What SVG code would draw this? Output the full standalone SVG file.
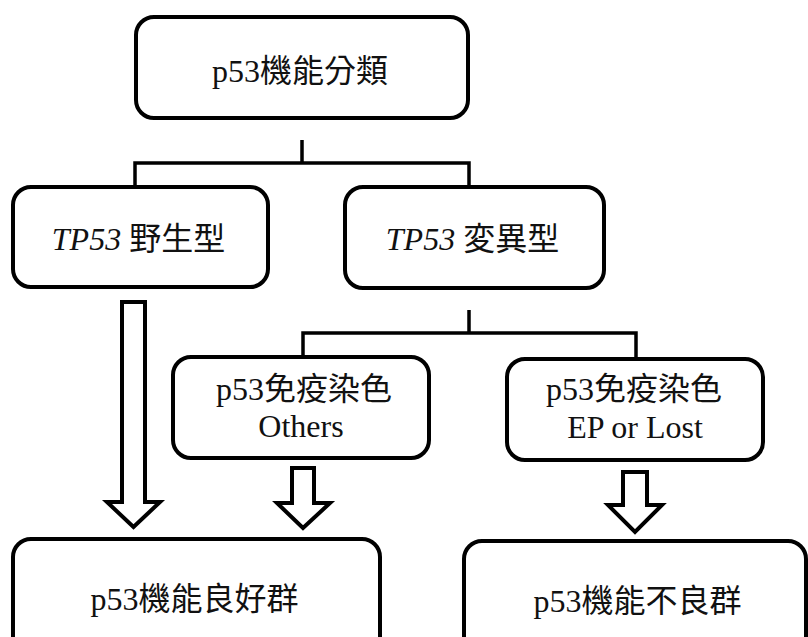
<svg xmlns="http://www.w3.org/2000/svg" width="808" height="637" viewBox="0 0 808 637">
<style>
.box{fill:#fff;stroke:#000;stroke-width:4}
.con{fill:none;stroke:#000;stroke-width:3.5}
.arr{fill:#fff;stroke:#000;stroke-width:4;stroke-linejoin:miter}
text{font-family:"Liberation Serif","Noto Sans CJK TC","Noto Sans CJK JP",serif;font-size:32px;fill:#111;text-anchor:middle}
.it{font-style:italic}
</style>
<rect width="808" height="637" fill="#fff"/>
<g id="connectors">
<path class="con" d="M302,140 V163 M135,187 V163 H469 V187"/>
<path class="con" d="M469,310 V333 M303,357 V333 H636 V359"/>
<path class="arr" d="M122,302 H145 V502 H160 L133.5,527 L107,502 H122 Z"/>
<path class="arr" d="M292,468 H314 V503 H330 L303,528 L277,503 H292 Z"/>
<path class="arr" d="M623,472 H647 V505 H662 L635,532 L608,505 H623 Z"/>
</g>
<g id="n-top">
<rect class="box" x="136" y="17" width="332" height="101" rx="18"/>
<text x="300" y="82">p53機能分類</text>
</g>
<g id="n-wild">
<rect class="box" x="13" y="187" width="255" height="100" rx="18"/>
<text x="138.5" y="250"><tspan class="it">TP53</tspan> 野生型</text>
</g>
<g id="n-mut">
<rect class="box" x="345" y="187" width="259" height="101" rx="18"/>
<text x="472.5" y="250"><tspan class="it">TP53</tspan> 変異型</text>
</g>
<g id="n-others">
<rect class="box" x="173" y="357" width="256" height="101" rx="18"/>
<text x="304" y="400">p53免疫染色</text>
<text x="301" y="437">Others</text>
</g>
<g id="n-ep">
<rect class="box" x="507" y="359" width="256" height="101" rx="18"/>
<text x="634" y="400">p53免疫染色</text>
<text x="635" y="438">EP or Lost</text>
</g>
<g id="n-good">
<rect class="box" x="13" y="539" width="367" height="121" rx="18"/>
<text x="194.5" y="610">p53機能良好群</text>
</g>
<g id="n-poor">
<rect class="box" x="464" y="541" width="342" height="121" rx="18"/>
<text x="637.5" y="612">p53機能不良群</text>
</g>
</svg>
